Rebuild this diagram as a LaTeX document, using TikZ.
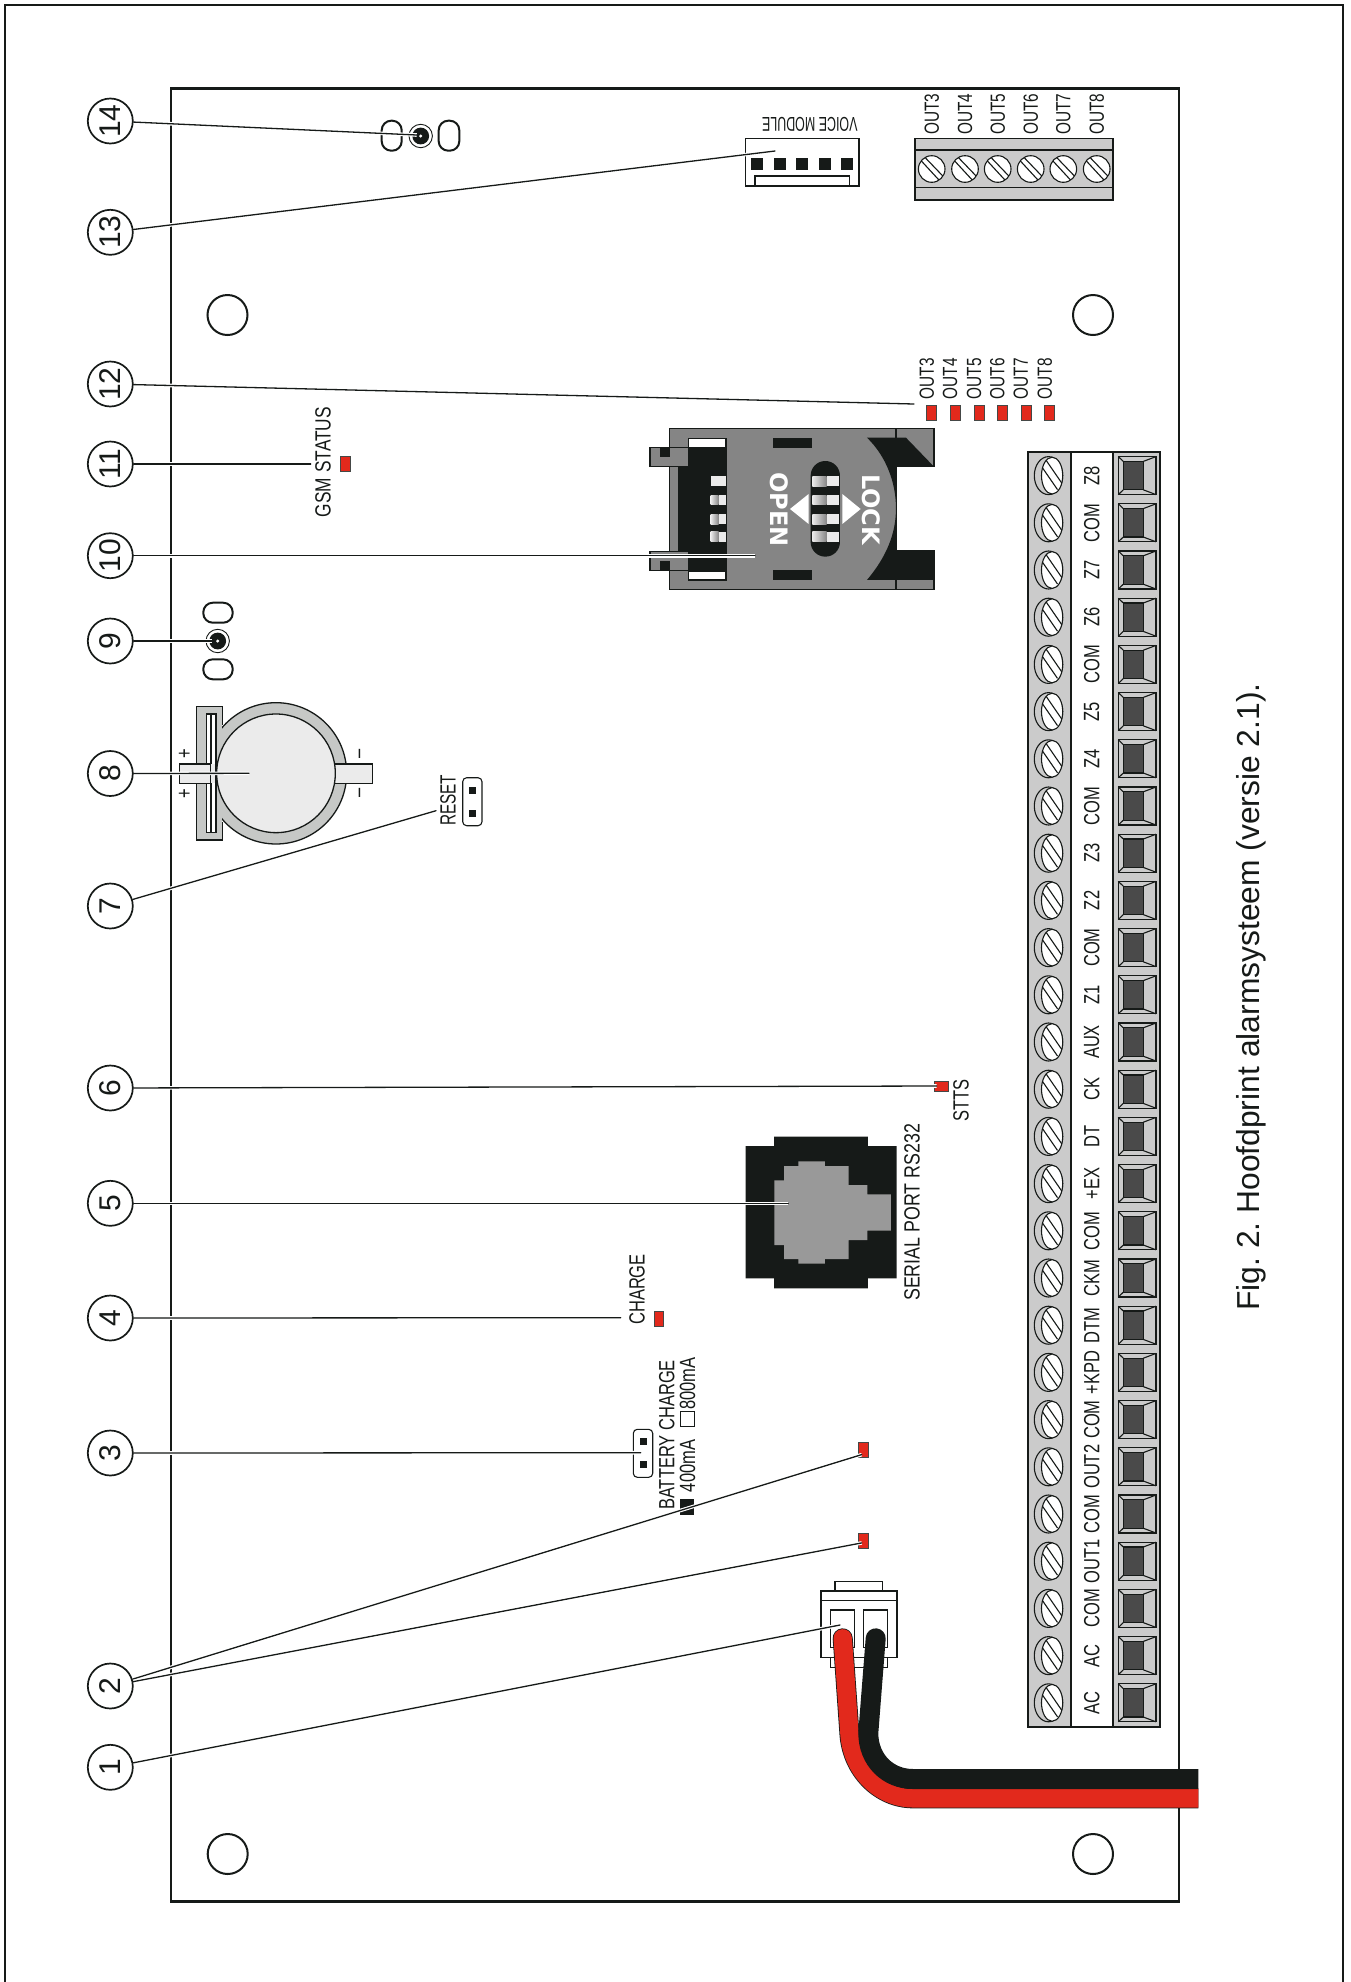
\documentclass[tikz,border=0pt]{standalone}
\usepackage{fontspec}
\setmainfont{Liberation Sans}
\newfontfamily\lblfont[FakeStretch=.75]{Liberation Sans}
\newfontfamily\simfont{DejaVu Sans}
\definecolor{inkblack}{HTML}{161A18}
\definecolor{ledred}{HTML}{E2291C}
\definecolor{stripgrey}{HTML}{CBCBCB}
\definecolor{simgrey}{HTML}{858585}
\definecolor{portgrey}{HTML}{999999}
\definecolor{socketdark}{HTML}{4A4A4A}
\definecolor{ringgrey}{HTML}{C6C8C6}
\definecolor{cellgrey}{HTML}{EBEBEB}
\pgfdeclarelayer{parts}
\pgfdeclarelayer{leaders}
\pgfsetlayers{parts,leaders,main}
\tikzset{
	ln/.style={draw=inkblack,line width=1.1pt},
	lnthick/.style={draw=inkblack,line width=2.7pt},
	lbl/.style={inner sep=0pt,text=inkblack,rotate=90,font=\lblfont\fontsize{22}{22}\selectfont},
	lblsmall/.style={lbl,font=\lblfont\fontsize{20.5}{20.5}\selectfont},
	callout/.style={circle,draw=inkblack,line width=1.7pt,fill=white,minimum size=45pt,inner sep=0pt,rotate=90,text=inkblack,font=\fontsize{30}{30}\selectfont},
	leader/.style={draw=inkblack,line width=1.3pt,line cap=round,preaction={draw=white,line width=3.6pt}},
	led/.style={draw=inkblack!80,line width=.9pt,fill=ledred},
	jumper/.style={ln,rounded corners=4pt,fill=white},
	pin/.style={fill=inkblack},
	oval/.style={ln,line width=2pt,rounded corners=9.5pt},
	simlbl/.style={inner sep=0pt,rotate=-90,text=white,font=\simfont\bfseries\fontsize{24}{24}\selectfont},
	screw/.pic={
		\draw[ln,fill=stripgrey] (0,0) ellipse [x radius=14.2,y radius=19];
		\begin{scope}
			\clip (3.6,0) ellipse [x radius=10.6,y radius=18.4];
			\fill[white] (-12,-20) rectangle (16,20);
			\draw[ln] (-11,-15) -- (9,14);
			\draw[ln] (-7,-22) -- (15,10);
		\end{scope}
		\draw[ln] (3.6,0) ellipse [x radius=10.6,y radius=18.4];
	},
	roundscrew/.pic={
		\draw[ln,fill=white] (0,0) circle [radius=13.3];
		\begin{scope}
			\clip (0,0) circle [radius=13.3];
			\draw[ln] (-14,-12) -- (10,14);
			\draw[ln] (-10,-15) -- (14,10);
		\end{scope}
	},
	socket/.pic={
		\draw[ln,line width=1.3pt] (-18.7,-19) rectangle (19,19);
		\draw[ln,fill=socketdark] (-13.7,-14.2) rectangle (6.3,14.2);
		\draw[ln] (-18.7,-19) -- (-13.7,-14.2) (-18.7,19) -- (-13.7,14.2);
		\draw[ln] (19,-19) -- (6.3,-14.2) (19,19) -- (6.3,14.2);
	},
	jack/.pic={
		\draw[draw=inkblack,line width=.9pt,fill=white] (0,0) circle [radius=11.7];
		\fill[inkblack] (0,0) circle [radius=8.4];
		\fill[white] (0,0) circle [radius=1.7];
	}
}

\begin{document}
\begin{tikzpicture}[x=1pt,y=-1pt]
	\useasboundingbox (0,0) rectangle (1351,1982);

	\foreach \n/\ypos in {1/1767.3,2/1686,3/1453,4/1318,5/1203.3,6/1088,7/906,8/773.5,9/641,10/555.7,11/464,12/384,13/232.3,14/121}
		\node[callout] (c\n) at (110.3,\ypos) {\n};

	\coordinate (e1) at (840,1625);
	\coordinate (e2) at (861.7,1454.6);
	\coordinate (e2b) at (861.7,1542.9);
	\coordinate (e3) at (640.7,1452.7);
	\coordinate (e4) at (620.7,1317.7);
	\coordinate (e5) at (788.3,1203.3);
	\coordinate (e6) at (936.7,1086);
	\coordinate (e7) at (436,810.7);
	\coordinate (e8) at (249,773.3);
	\coordinate (e9) at (211.7,641);
	\coordinate (e10) at (755,555.7);
	\coordinate (e11) at (310.7,464);
	\coordinate (e12) at (914,404);
	\coordinate (e13) at (775,151);
	\coordinate (e14) at (416.7,135);

	\begin{pgfonlayer}{leaders}
		\foreach \n in {1,...,14}
			\draw[leader] (c\n) -- (e\n);
		\draw[leader] (c2) -- (e2b);
	\end{pgfonlayer}

	\begin{pgfonlayer}{parts}
	% page frame and board
	\draw[draw=inkblack,line width=1.7pt] (4.7,1982) -- (4.7,5) -- (1343,5) -- (1343,1982);
	\draw[lnthick] (171,88.7) rectangle (1179,1901.7);
	\foreach \hx/\hy in {227.5/315,1093/315,227.7/1854,1093/1854}
		\draw[draw=inkblack,line width=2pt,fill=white] (\hx,\hy) circle [radius=20];

	% lower terminal block
	\draw[ln,line width=1.3pt,fill=stripgrey] (1028,452) rectangle (1160,1727);
	\draw[ln,line width=1.3pt,fill=white] (1071,452) rectangle (1113,1727);
	\foreach \txt [count=\i from 0] in {Z8,COM,Z7,Z6,COM,Z5,Z4,COM,Z3,Z2,COM,Z1,AUX,CK,DT,+EX,COM,CKM,DTM,+KPD,COM,OUT2,COM,OUT1,COM,AC,AC}{
		\pgfmathsetmacro{\ypos}{475.6+47.2*\i}
		\path (1048.5,\ypos) pic {screw};
		\path (1137,\ypos) pic {socket};
		\node[lbl] (T\i) at (1091.7,\ypos) {\txt};
	}

	% upper terminal block
	\draw[ln,line width=1.3pt,fill=stripgrey] (915,138.3) rectangle (1113,200);
	\draw[ln,line width=1.3pt] (915,150) -- (1113,150) (915,187.3) -- (1113,187.3);
	\foreach \xpos [count=\i from 3] in {931.7,965,997.7,1030.7,1063.3,1096.7}{
		\path (\xpos,169) pic {roundscrew};
		\node[lblsmall,anchor=west] (OT\i) at (\xpos,135) {OUT\i};
	}

	% output leds
	\foreach \xled/\xtxt [count=\i from 3] in {931.7/926.7,955.3/950,979/974,1002.7/997.3,1026/1020.7,1049/1044.7}{
		\draw[led] (\xled-5,405) rectangle (\xled+5,420);
		\node[lblsmall,anchor=west] (OL\i) at (\xtxt,399.3) {OUT\i};
	}

	% voice module
	\draw[ln,fill=white] (745.7,138.3) rectangle (859,186);
	\draw[ln] (755,186) -- (755,176) -- (849.3,176) -- (849.3,186);
	\foreach \xpos in {757,780,802,825,847}
		\fill[pin] (\xpos-6,158.3) rectangle (\xpos+6,170);
	\node[lbl,rotate=90,font=\lblfont\fontsize{20}{20}\selectfont] (VM) at (809.8,124.3) {\scalebox{.83}[1]{VOICE MODULE}};

	% sockets for the spring contacts
	\path (420.7,136) pic {jack};
	\draw[oval] (381.7,120.7) rectangle (401.7,150.7);
	\draw[oval] (438.7,120.7) rectangle (459.3,150.7);
	\path (217.7,641) pic {jack};
	\draw[oval] (203.3,602.7) rectangle (232.7,622.7);
	\draw[oval] (203.3,659.3) rectangle (232.7,679.3);

	% gsm status
	\node[lbl,anchor=west] (GSM) at (323,517.3) {\scalebox{1.05}[1]{GSM STATUS}};
	\draw[led] (340.7,456.7) rectangle (350,471.7);

	% sim holder
	\begin{scope}[shift={(620,400)},x=.3333pt,y=-.3333pt]
		\draw[ln,line width=1.3pt,fill=simgrey] (148,85) -- (942,85) -- (942,200) -- (830,200) -- (830,453) -- (942,453) -- (942,568) -- (148,568) -- cycle;
		\fill[inkblack] (741,113) -- (858,113) -- (942,200) -- (830,200) -- (830,453) -- (942,453) -- (942,540) -- (741,540) .. controls (800,470) and (828,400) .. (828,325) .. controls (828,250) and (800,170) .. (741,113) -- cycle;
		\draw[ln] (828,85) -- (828,113) (828,540) -- (828,568);
		\fill[inkblack] (175,142) rectangle (320,512);
		\draw[ln,fill=white] (205,115) rectangle (318,142);
		\draw[ln,fill=white] (205,514) rectangle (318,540);
		\draw[ln,fill=simgrey] (90,142) rectangle (205,200);
		\draw[ln,fill=simgrey] (90,455) rectangle (205,512);
		\fill[inkblack] (120,142) rectangle (150,172);
		\fill[inkblack] (120,482) rectangle (150,512);
		\fill[inkblack] (458,113) rectangle (576,145);
		\fill[inkblack] (458,510) rectangle (576,541);
		\fill[inkblack,rounded corners=14.6pt] (572,183) rectangle (660,470);
		\foreach \ybar in {228,285,343,396}{
			\fill[cellgrey] (620,\ybar) rectangle (657,\ybar+30);
			\shade[left color=cellgrey,right color=simgrey] (577,\ybar) rectangle (620,\ybar+30);
		}
		\fill[cellgrey] (272,228) rectangle (318,258);
		\foreach \ybar in {285,343,396}{
			\fill[cellgrey] (296,\ybar) rectangle (318,\ybar+30);
			\shade[left color=cellgrey,right color=simgrey] (272,\ybar) rectangle (296,\ybar+30);
		}
		\fill[white] (510,327) -- (566,282) -- (566,372) -- cycle;
		\fill[white] (722,327) -- (667,282) -- (667,372) -- cycle;
		\node[simlbl] (OPEN) at (479,329) {OPEN};
		\node[simlbl] (LOCK) at (755,329) {LOCK};
	\end{scope}

	% coin cell holder
	\begin{scope}[shift={(150,680)},x=.3333pt,y=-.3333pt]
		\fill[ringgrey] (140,80) rectangle (217,480);
		\draw[ln,line width=1.3pt,fill=ringgrey] (378,280) circle [radius=212];
		\fill[ringgrey] (140,80) rectangle (217,480);
		\draw[ln,line width=1.3pt] (217,135) -- (217,80) -- (140,80) -- (140,480) -- (217,480) -- (217,425);
		\draw[ln,fill=white] (170,102) rectangle (198,458);
		\draw[ln] (183,102) -- (183,458);
		\draw[ln,fill=cellgrey] (88,252) rectangle (183,310);
		\fill[cellgrey] (183,253) rectangle (205,309);
		\draw[ln] (198,252) -- (198,310);
		\draw[ln,fill=cellgrey] (540,252) rectangle (668,310);
		\draw[ln,line width=1.3pt,fill=cellgrey] (378,280) circle [radius=178];
		\node[lbl] (plusA) at (106,220) {+};
		\node[lbl] (plusB) at (106,340) {+};
		\node[lbl] (minusA) at (636,222) {–};
		\node[lbl] (minusB) at (636,340) {–};
	\end{scope}

	% reset jumper
	\node[lbl,anchor=west] (RESET) at (448,826) {\scalebox{.93}[1]{RESET}};
	\draw[jumper] (462.7,777.7) rectangle (482,825.7);
	\fill[pin] (468.8,786.8) rectangle (475.8,793.8);
	\fill[pin] (468.8,809.8) rectangle (475.8,816.8);

	% status led
	\draw[led] (934,1081.4) rectangle (948.3,1091.4);
	\node[lbl,anchor=west] (STTS) at (961,1121.4) {STTS};

	% serial port
	\begin{scope}[shift={(720,1120)},x=.3333pt,y=-.3333pt]
		\fill[inkblack] (162,50) -- (444,50) -- (444,78) -- (530,78) -- (530,475) -- (444,475) -- (444,505) -- (162,505) -- (162,475) -- (77,475) -- (77,78) -- (162,78) -- cycle;
		\fill[portgrey] (235,124) -- (315,124) -- (315,138) -- (386,138) -- (386,195) -- (442,195) -- (442,223) -- (513,223) -- (513,332) -- (442,332) -- (442,360) -- (386,360) -- (386,417) -- (315,417) -- (315,431) -- (235,431) -- (235,417) -- (192,417) -- (192,375) -- (163,375) -- (163,181) -- (192,181) -- (192,138) -- (235,138) -- cycle;
	\end{scope}
	\node[lbl,anchor=west] (RS232) at (912,1301) {\scalebox{1.08}[1]{SERIAL PORT RS232}};

	% charge led and battery jumper
	\node[lbl,anchor=west] (CHARGE) at (637,1325) {CHARGE};
	\draw[led] (654,1311.3) rectangle (663.3,1326);
	\draw[jumper] (633.3,1429.3) rectangle (652.7,1477.3);
	\fill[pin] (639.8,1437.8) rectangle (646.8,1444.8);
	\fill[pin] (639.8,1460.8) rectangle (646.8,1467.8);
	\node[lbl,anchor=west] (BATT) at (666.7,1510) {BATTERY CHARGE};
	\node[lbl,anchor=west] (mA800) at (687.5,1410) {800mA};
	\draw[ln] (680.7,1411.7) rectangle (694.3,1426.7);
	\node[lbl,anchor=west] (mA400) at (687.5,1492.3) {400mA};
	\fill[pin] (680,1499.3) rectangle (694.3,1515);

	% main board leds
	\draw[led] (858.3,1442.3) rectangle (868.3,1457.3);
	\draw[led] (858.3,1533) rectangle (868.3,1548);

	% power connector and wires
	\begin{scope}[shift={(780,1550)},x=.3333pt,y=-.3333pt]
		\draw[ln,fill=white] (165,95) rectangle (308,123);
		\draw[ln,fill=white] (151,322) rectangle (323,352);
		\draw[ln,fill=white] (123,123) rectangle (351,322);
		\draw[ln] (123,152) -- (351,152);
		\draw[ln,fill=white] (151,180) rectangle (223,293);
		\draw[ln,fill=white] (251,180) rectangle (323,293);
	\end{scope}
	\begin{scope}
		\clip (700,1500) rectangle (1198.3,1900);
		\draw[draw=inkblack,line width=20pt,line cap=round] (842.7,1638.3) -- (849.3,1731.7) .. controls (851,1770) and (880,1798.3) .. (913,1798.3) -- (1220,1798.3);
		\draw[draw=ledred,line width=18.4pt,line cap=round] (842.7,1638.3) -- (849.3,1731.7) .. controls (851,1770) and (880,1798.3) .. (913,1798.3) -- (1220,1798.3);
		\draw[draw=inkblack,line width=20pt,line cap=round] (875.7,1638.3) -- (868.3,1733) .. controls (868.3,1760) and (888,1779) .. (913,1779) -- (1220,1779);
	\end{scope}

	% caption
	\node[inner sep=0pt,rotate=90,text=inkblack,font=\fontsize{31.8}{32}\selectfont\frenchspacing] (caption) at (1251,997) {Fig. 2. Hoofdprint alarmsysteem (versie 2.1).};
	\end{pgfonlayer}
\end{tikzpicture}
\end{document}
